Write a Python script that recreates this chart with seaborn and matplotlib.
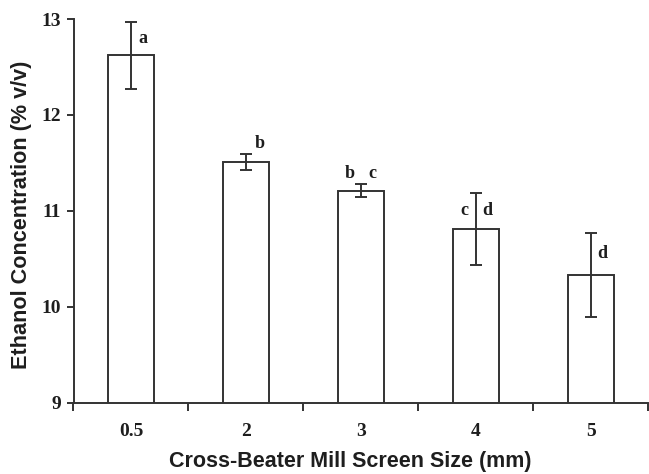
import matplotlib
matplotlib.use("Agg")
import matplotlib.pyplot as plt
import seaborn as sns
import pandas as pd
import numpy as np

categories = ["0.5", "2", "3", "4", "5"]
ethanol = [12.62, 11.51, 11.21, 10.81, 10.33]
errors = [0.35, 0.08, 0.07, 0.38, 0.44]
letters_left = ["", "", "b", "c", ""]
letters_right = ["a", "b", "c", "d", "d"]
y_ticks = [9, 10, 11, 12, 13]

sns.set_theme(style="white")
plt.rcParams['font.family'] = ['Liberation Sans', 'DejaVu Sans']

df = pd.DataFrame({"size": categories, "ethanol": ethanol})

fig = plt.figure(figsize=(6.49, 4.74), dpi=100)
ax = fig.add_axes([73.5/649, 1-402.5/474, 1-73.5/649 - 0.001, (402.5-19)/474])

line_c = "#333333"
text_c = "#1e1e1e"
sns.barplot(data=df, x="size", y="ethanol", ax=ax, color="white",
            edgecolor=line_c, linewidth=1.4, width=0.4, errorbar=None,
            order=categories)
ax.errorbar(np.arange(len(categories)), ethanol, yerr=errors, fmt="none",
            ecolor=line_c, elinewidth=1.4, capsize=4, capthick=1.4)

for i, (m, e) in enumerate(zip(ethanol, errors)):
    if e > 0.2:
        y = m + e / 2
    else:
        y = m + e + 0.11
    kw = dict(fontsize=13, fontweight="bold", family=["Liberation Serif"],
              color=text_c, va="center")
    if letters_left[i]:
        ax.text(i - 0.1, y, letters_left[i], ha="center", **kw)
        ax.text(i + 0.1, y, letters_right[i], ha="center", **kw)
    else:
        dx = 0.1 if e > 0.2 else 0.12
        ax.text(i + dx, y, letters_right[i], ha="center", **kw)

ax.set_ylim(9, 13)
ax.set_xlim(-0.5, 4.5)
ax.set_yticks(y_ticks)
ax.set_xticks(np.arange(len(categories)))
ax.set_xticklabels(categories)
ax.set_xticks(np.arange(-0.5, 5.0, 1.0), minor=True)
ax.tick_params(axis="x", which="major", length=0, pad=15)
ax.tick_params(axis="x", which="minor", length=6, width=1.4, color=line_c, direction="out")
ax.tick_params(axis="y", length=5, width=1.4, color=line_c, direction="out", pad=4)
ax.tick_params(left=True, bottom=True, which="both")
for lab in ax.get_xticklabels() + ax.get_yticklabels():
    lab.set_family(["Liberation Serif"])
    lab.set_fontweight("bold")
    lab.set_fontsize(14)
    lab.set_color(text_c)

sns.despine(ax=ax)
for s in ["left", "bottom"]:
    ax.spines[s].set_color(line_c)
    ax.spines[s].set_linewidth(1.4)

ax.set_xlabel("Cross-Beater Mill Screen Size (mm)", fontsize=15.5, fontweight="bold",
              color=text_c)
ax.set_ylabel("Ethanol Concentration (% v/v)", fontsize=15.6, fontweight="bold",
              color=text_c)
ax.xaxis.set_label_coords((351 - 73.5) / 575.5, -(462 - 402.5) / 383.5)
ax.xaxis.label.set_va("center")
ax.yaxis.set_label_coords(-(73.5 - 21) / 575.5, (402.5 - 215) / 383.5)
ax.yaxis.label.set_va("center")

fig.savefig("out.png", dpi=100)
